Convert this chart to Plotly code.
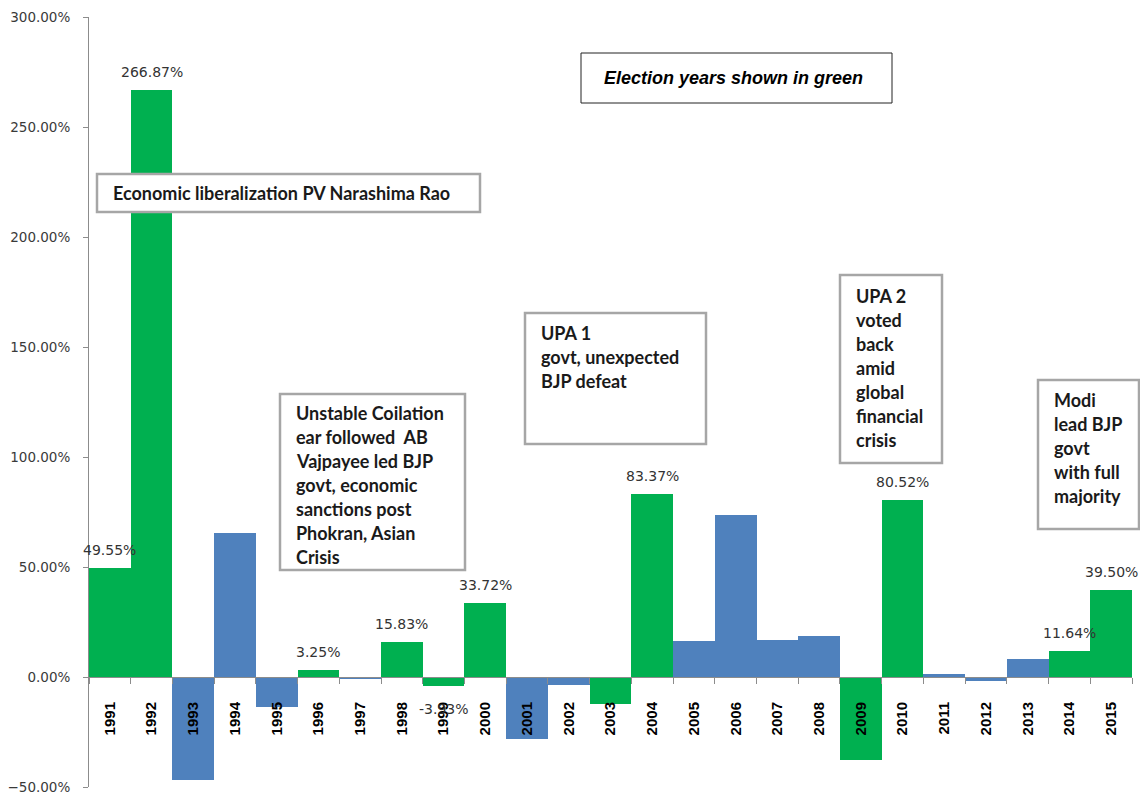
import plotly.graph_objects as go

# Year-on-year change, in percent
years = [str(y) for y in range(1991, 2016)]
change_pct = [49.55, 266.87, -46.8, 65.5, -13.5, 3.25, -0.8, 15.83, -3.93, 33.72,
              -28.0, -3.7, -12.3, 83.37, 16.2, 73.6, 17.0, 18.8, -37.7, 80.52,
              1.2, -1.8, 8.3, 11.64, 39.50]
election_years = {"1991", "1992", "1996", "1998", "1999", "2000", "2003", "2004",
                  "2009", "2010", "2014", "2015"}
labelled_years = ["1991", "1992", "1996", "1998", "1999", "2000", "2004", "2010",
                  "2014", "2015"]

GREEN = "#00B050"
BLUE = "#4F81BD"

# plot-area geometry (pixels)
W, H = 1140, 796
L, R, T, B = 89, 8, 17, 9
PW, PH = W - L - R, H - T - B


def px_x(px):
    return (px - L) / PW


def px_y(py):
    return (H - B - py) / PH


colors = [GREEN if y in election_years else BLUE for y in years]

fig = go.Figure()
fig.add_trace(go.Bar(
    x=years, y=change_pct,
    marker=dict(color=colors, line=dict(width=0)),
    hoverinfo="x+y",
))

annotations = []
for yr in labelled_years:
    idx = years.index(yr)
    v = change_pct[idx]
    annotations.append(dict(
        x=idx, y=v, xref="x", yref="y",
        text=f"{v:.2f}%", showarrow=False,
        xanchor="center",
        yanchor="bottom" if v >= 0 else "top",
        yshift=8 if v >= 0 else -13,
        font=dict(family="DejaVu Sans", size=14, color="#333333"),
    ))

# commentary boxes: (left, top, right, bottom) in pixels, then text lines
boxes = [
    ((97, 174, 480, 212), ["Economic liberalization PV Narashima Rao"], 193),
    ((280, 394, 465, 570), ["Unstable Coilation", "ear followed  AB", "Vajpayee led BJP",
                            "govt, economic", "sanctions post", "Phokran, Asian",
                            "Crisis"], 413),
    ((525, 313, 706, 444), ["UPA 1", "govt, unexpected", "BJP defeat"], 333),
    ((840, 275, 942, 463), ["UPA 2", "voted", "back", "amid", "global", "financial",
                            "crisis"], 296),
    ((1038, 380, 1139, 529), ["Modi", "lead BJP", "govt", "with full", "majority"], 400),
]
LINE_H = 24
shapes = []
for (x0, y0, x1, y1), lines, first_y in boxes:
    shapes.append(dict(
        type="rect", xref="paper", yref="paper",
        x0=px_x(x0), x1=px_x(x1), y0=px_y(y1), y1=px_y(y0),
        line=dict(color="#A6A6A6", width=2.5), fillcolor="white", layer="above",
    ))
    for i, line in enumerate(lines):
        annotations.append(dict(
            x=px_x(x0 + 14), y=px_y(first_y + i * LINE_H), xref="paper", yref="paper",
            xanchor="left", yanchor="middle", text=f"<b>{line}</b>", showarrow=False,
            font=dict(family="Lato", size=18, color="#1a1a1a"),
        ))

# legend-style note
shapes.append(dict(
    type="rect", xref="paper", yref="paper",
    x0=px_x(581), x1=px_x(892), y0=px_y(103), y1=px_y(53),
    line=dict(color="#222222", width=1), fillcolor="white", layer="above",
))
annotations.append(dict(
    x=px_x(733), y=px_y(78), xref="paper", yref="paper",
    xanchor="center", yanchor="middle",
    text="<b><i>Election years shown in green</i></b>", showarrow=False,
    font=dict(family="Liberation Sans", size=18, color="black"),
))

fig.update_layout(
    width=W, height=H,
    margin=dict(l=L, r=R, t=T, b=B, pad=0, autoexpand=False),
    paper_bgcolor="white", plot_bgcolor="white",
    bargap=0, showlegend=False,
    shapes=shapes, annotations=annotations,
    xaxis=dict(
        type="category", range=[-0.5, len(years) - 0.5],
        anchor="free", position=(0 - (-50)) / (300 - (-50)),
        automargin=False,
        showline=True, linecolor="#8c8c8c", linewidth=1,
        ticks="outside", tickson="boundaries", ticklen=6, tickcolor="#8c8c8c",
        tickangle=-90, ticklabelstandoff=18,
        tickfont=dict(family="Liberation Sans", size=15, color="black", weight="bold"),
        showgrid=False, zeroline=False,
    ),
    yaxis=dict(
        range=[-50, 300], dtick=50, tickformat=".2f", ticksuffix="%",
        automargin=False,
        showline=True, linecolor="#8c8c8c", linewidth=1,
        ticks="outside", ticklen=5, tickcolor="#8c8c8c", ticklabelstandoff=10,
        tickfont=dict(family="DejaVu Sans", size=13.5, color="#3a3a3a"),
        showgrid=False, zeroline=False,
    ),
)

fig.write_html("out.html")
